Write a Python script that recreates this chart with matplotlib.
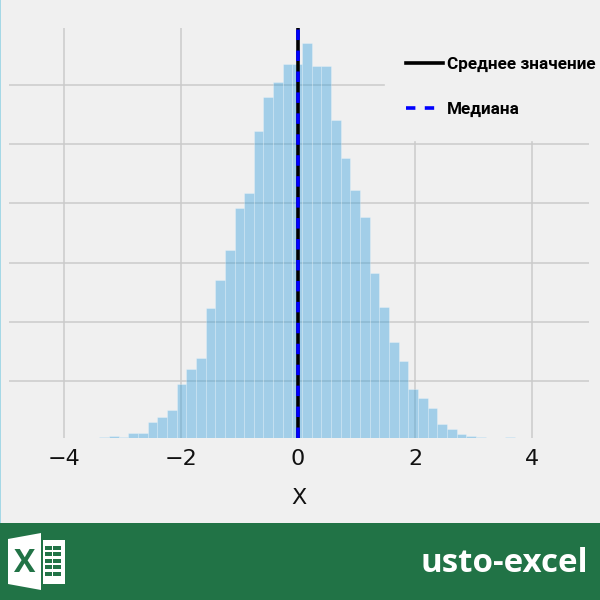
import matplotlib
matplotlib.use('Agg')
import matplotlib.pyplot as plt
import numpy as np
from matplotlib.lines import Line2D
from matplotlib.patches import Polygon, Rectangle
from matplotlib.transforms import Affine2D

# histogram values
bin_start = -3.397
bin_width = 0.165
counts = [0.7, 2, 0.7, 5, 5, 16, 21, 28, 54, 69, 80, 130, 158, 188, 230, 245, 307, 341, 356, 374, 374,
          395, 372, 372, 318, 280, 248, 221, 165, 131, 96, 77, 49, 40, 30, 14, 9, 3.5, 1.5, 0.5, 0, 0, 1]
mean_value = 0.0
median_value = 0.0
x_ticks = [-4, -2, 0, 2, 4]
x_tick_labels = ['\u22124', '\u22122', '0', '2', '4']
y_ticks = [57, 116, 175, 235, 294, 353]

bg = '#f0f0f0'
grid_col = '#cbcbcb'
green = '#217346'

fig = plt.figure(figsize=(6, 6), dpi=100, facecolor=bg)
ax = fig.add_axes([9 / 600, 1 - 437.5 / 600, 580 / 600, 409.5 / 600], facecolor=bg)

edges = bin_start + bin_width * np.arange(len(counts))
ax.bar(edges, counts, width=bin_width, align='edge', color='#2f9ddc', alpha=0.4,
       edgecolor='white', linewidth=0.4, zorder=3)
ax.axvline(mean_value, color='black', lw=2.6, zorder=4)
ax.axvline(median_value, color='blue', lw=2.6, ls=(0, (2.9, 2.9)), zorder=5)

ax.set_xlim(-4.94, 4.97)
ax.set_ylim(0, 409.5)
ax.set_xticks(x_ticks)
ax.set_xticklabels(x_tick_labels, fontsize=16, color='#111111')
ax.set_yticks(y_ticks)
ax.set_yticklabels([])
ax.tick_params(length=0, pad=8)
ax.grid(True, color=grid_col, lw=1.1, zorder=0)
ax.set_axisbelow(True)
for s in ax.spines.values():
    s.set_visible(False)
ax.set_xlabel('X', fontsize=16, color='#111111', labelpad=14)

# pixel coordinates for the page furniture, origin top left
px = Affine2D().scale(1 / 600, -1 / 600).translate(0, 1) + fig.transFigure

# the legend sits on a patch of background that hides the grid
ax.add_patch(Rectangle((385, 0), 215, 140, transform=px, color=bg, clip_on=False, zorder=6))
handles = [Line2D([], [], color='black', lw=2.6),
           Line2D([], [], color='blue', lw=2.6, ls=(0, (2.6, 2.6)))]
leg = ax.legend(handles, ['Среднее значение', 'Медиана'], loc='upper left',
                bbox_to_anchor=(390.5 / 600, 1 - 42 / 600), bbox_transform=fig.transFigure,
                frameon=False, handlelength=2.17, handletextpad=0.25, labelspacing=1.75,
                prop={'family': ['Roboto', 'Liberation Sans'], 'weight': 'bold', 'size': 12.3})
leg.set_zorder(7)

# left edge line and green footer
fig.add_artist(Rectangle((0, 0), 1.2, 523, transform=px, color='#a5d8e6', lw=0))
fig.add_artist(Rectangle((0, 523), 600, 77, transform=px, color=green, lw=0))

# excel logo
fig.add_artist(Rectangle((43, 540), 22, 44, transform=px, color='white', lw=0))
for row_y in [546, 552, 559, 565, 572]:
    for col_x, col_w in [(45, 7), (53, 8)]:
        fig.add_artist(Rectangle((col_x, row_y), col_w, 4, transform=px, color=green, lw=0))
fig.add_artist(Polygon([(8, 539), (41, 533), (41, 590), (8, 584)], closed=True, transform=px,
                       color='white', lw=0))
fig.text(25 / 600, 1 - 563 / 600, 'X', color=green, fontsize=23, fontweight='bold',
         family='Open Sans', ha='center', va='center')

fig.text(588 / 600, 1 - 563 / 600, 'usto-excel', color='white', fontsize=23.8, fontweight='bold',
         family='Open Sans', ha='right', va='center')

fig.savefig('out.png', dpi=100, facecolor=fig.get_facecolor())
